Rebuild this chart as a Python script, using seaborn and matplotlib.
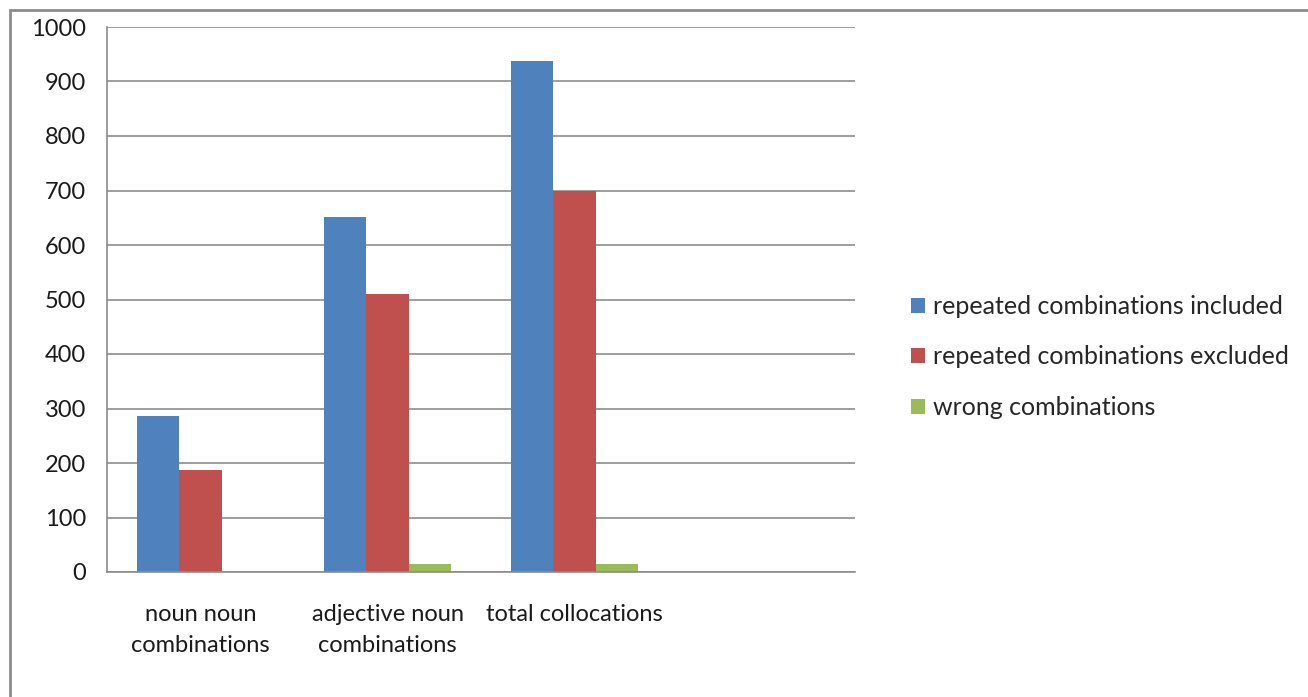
import pandas as pd
import matplotlib.pyplot as plt
import seaborn as sns
from matplotlib.patches import Rectangle
from matplotlib.ticker import FixedLocator

# ===[ Data ]==================================================================
categories = ["noun noun\ncombinations", "adjective noun\ncombinations",
              "total collocations", " "]
series = ["repeated combinations included",
          "repeated combinations excluded",
          "wrong combinations"]
included = [286, 652, 937]
excluded = [187, 510, 700]
wrong = [0, 15, 15]
colors = ["#4f81bd", "#c0504d", "#9bbb59"]


def main():
    rows = []
    for name, vals in zip(series, [included, excluded, wrong]):
        for cat, v in zip(categories[:3], vals):
            rows.append({"category": cat, "series": name, "value": v})
    df = pd.DataFrame(rows)

    sns.set_style("white")
    plt.rcParams["font.family"] = ["Lato", "DejaVu Sans"]

    fig = plt.figure(figsize=(13.08, 6.97), dpi=100)
    ax = fig.add_axes([107 / 1308, 1 - 572 / 697, (855 - 107) / 1308,
                       (572 - 27) / 697])

    sns.barplot(data=df, x="category", y="value", hue="series",
                order=categories, hue_order=series, palette=colors,
                width=0.675, gap=0, saturation=1, ax=ax, errorbar=None,
                linewidth=0)

    ax.set_xlim(-0.5, 3.5)
    ax.set_ylim(0, 1000)
    ax.set_yticks(range(0, 1001, 100))
    ax.yaxis.grid(True, color="#8c8c8c", linewidth=1.2)
    ax.set_axisbelow(True)
    ax.set_xlabel("")
    ax.set_ylabel("")

    for s in ["top", "right"]:
        ax.spines[s].set_visible(False)
    for s in ["left", "bottom"]:
        ax.spines[s].set_color("#8c8c8c")
        ax.spines[s].set_linewidth(1.2)

    ax.tick_params(axis="y", length=7, color="#8c8c8c", width=1.2,
                   labelsize=17, pad=8, labelcolor="#1a1a1a")
    ax.tick_params(axis="x", which="major", length=0, labelsize=17,
                   pad=23, labelcolor="#1a1a1a")
    ax.xaxis.set_minor_locator(FixedLocator([-0.5, 0.5, 1.5, 2.5, 3.5]))
    ax.tick_params(axis="x", which="minor", length=8, color="#8c8c8c",
                   width=1.2)
    for lab in ax.get_xticklabels():
        lab.set_linespacing(1.6)

    ax.legend(loc="center left", bbox_to_anchor=(911 / 1308, 1 - 357 / 697),
              bbox_transform=fig.transFigure, frameon=False, fontsize=18,
              handlelength=0.55, handleheight=0.55, handletextpad=0.35,
              labelspacing=1.1, borderaxespad=0, borderpad=0)

    # outer chart border
    fig.patches.append(Rectangle((10 / 1308, -0.05), 1.1, 1 - 10 / 697 + 0.05,
                                 transform=fig.transFigure, fill=False,
                                 edgecolor="#8c8c8c", linewidth=2))

    fig.savefig("out.png", dpi=100)


if __name__ == "__main__":
    main()
